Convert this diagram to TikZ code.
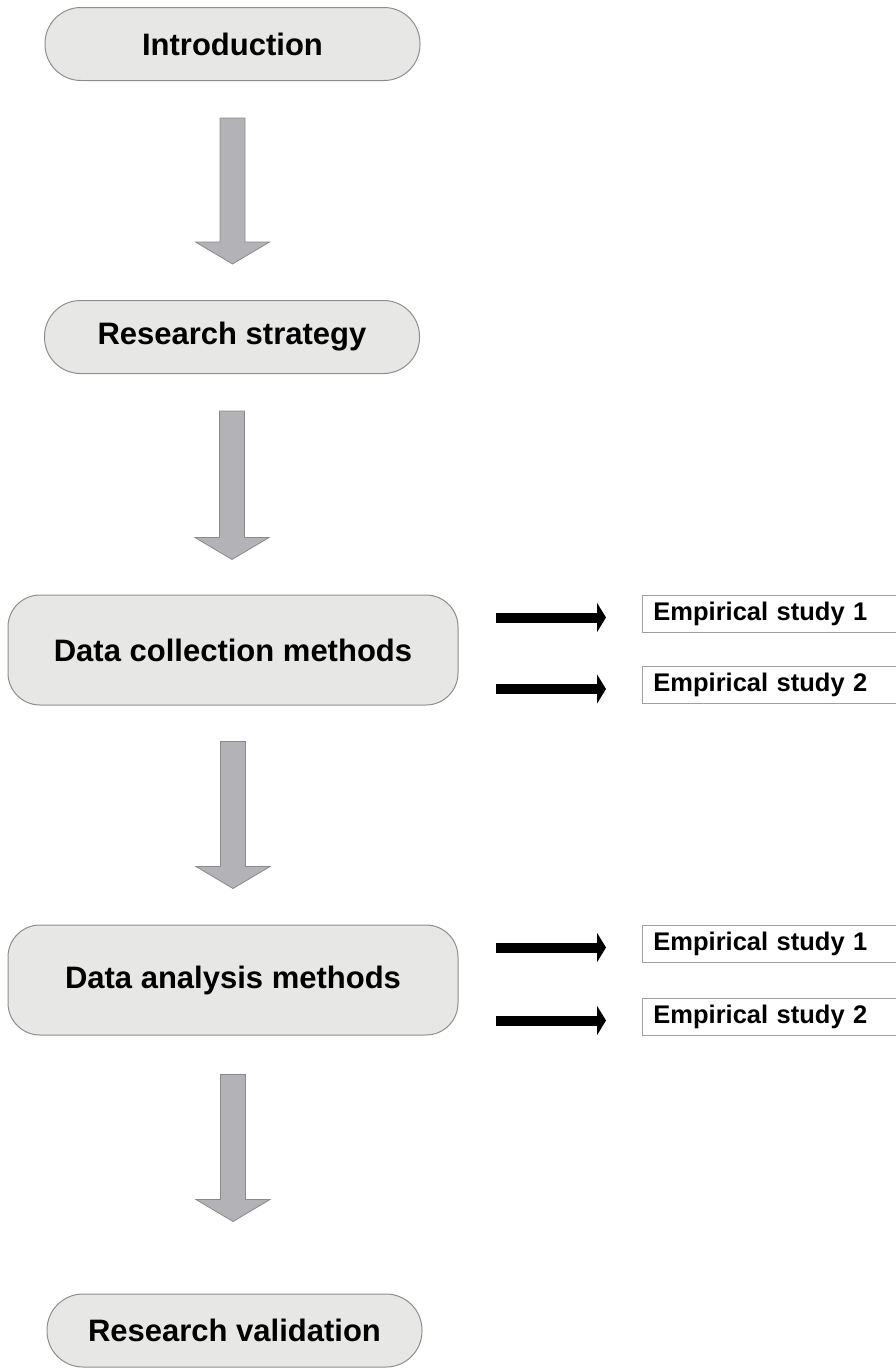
\documentclass[tikz,border=0pt]{standalone}
\usepackage{fontspec}
\setmainfont{Liberation Sans}
\usetikzlibrary{calc,arrows.meta}

\definecolor{boxfill}{HTML}{E7E7E5}
\definecolor{boxline}{HTML}{8E8E8E}
\definecolor{arrowfill}{HTML}{B3B3B7}
\definecolor{arrowline}{HTML}{8A8A8E}
\definecolor{studyline}{HTML}{A0A0A0}

\tikzset{
  stage/.style={draw=boxline, fill=boxfill, line width=1pt,
    font=\fontsize{31}{36}\selectfont\bfseries, inner sep=0pt},
  pill/.style={stage, minimum width=375pt, minimum height=73pt, rounded corners=36pt},
  block/.style={stage, minimum width=450pt, minimum height=110pt, rounded corners=32pt},
  studybox/.style={draw=studyline, fill=white, line width=0.8pt, anchor=west,
    font=\fontsize{25.5}{30}\selectfont\bfseries, text width=250pt, align=left,
    inner xsep=11pt, inner ysep=0pt, minimum height=37pt},
  bigarrow/.style={draw=arrowline, fill=arrowfill, line width=0.8pt, line join=miter},
  sidearrow/.style={draw=black, line width=10pt, -{Triangle[width=29pt,length=9pt]}},
}

% grey downward block arrow between two stages: #3 gap below the upper one, #4 gap above the lower one
\newcommand\flowdown[4]{%
  \draw[bigarrow] let \p1=($(#1.south)+(0,#3)$), \p2=($(#2.north)+(0,-#4)$) in
    (\x1-12.5pt,\y1) -- (\x1+12.5pt,\y1) -- (\x1+12.5pt,\y2+22pt) -- (\x1+37pt,\y2+22pt)
    -- (\x1,\y2) -- (\x1-37pt,\y2+22pt) -- (\x1-12.5pt,\y2+22pt) -- cycle;}

\begin{document}
\begin{tikzpicture}[x=1pt,y=-1pt]
  \useasboundingbox (0,0) rectangle (896,1368);
  \clip (0,0) rectangle (896,1368);

  % main stages
  \node[pill]  (intro)    at (232.5,44)    {Introduction};
  \node[pill]  (strategy) at (232,337)     {Research strategy};
  \node[block] (collect)  at (233,650)     {Data collection methods};
  \node[block] (analysis) at (233,980)     {Data analysis methods};
  \node[pill]  (valid)    at (234.5,1330.5){Research validation};

  % flow between stages
  \flowdown{intro}{strategy}{37}{36}
  \flowdown{strategy}{collect}{37}{35}
  \flowdown{collect}{analysis}{36}{36}
  \flowdown{analysis}{valid}{39}{72}

  % empirical studies
  \node[studybox] (c1) at (642,613.5)  {Empirical study 1};
  \node[studybox] (c2) at (642,685)    {Empirical study 2};
  \node[studybox] (a1) at (642,943.5)  {Empirical study 1};
  \node[studybox] (a2) at (642,1016.5) {Empirical study 2};

  \foreach \s in {c1,c2} {
    \draw[sidearrow] ($(collect.east |- \s.west)+(37,4)$) -- ($(\s.west)+(-36,4)$);
  }
  \foreach \s in {a1,a2} {
    \draw[sidearrow] ($(analysis.east |- \s.west)+(37,4)$) -- ($(\s.west)+(-36,4)$);
  }
\end{tikzpicture}
\end{document}
